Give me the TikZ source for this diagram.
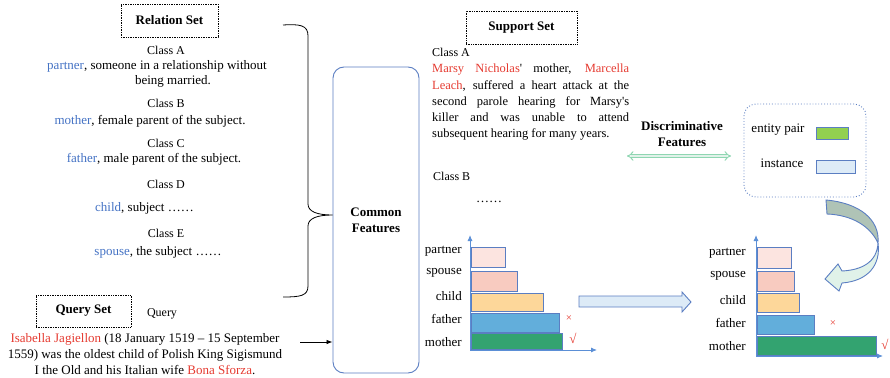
\documentclass[tikz,border=0pt]{standalone}
\usepackage{fontspec}
\setmainfont{Liberation Serif}
\usepackage{xcolor}
\usetikzlibrary{arrows.meta}
\usetikzlibrary{math}

\definecolor{relblue}{HTML}{4472C4}
\definecolor{entred}{HTML}{E53A30}
\definecolor{edgeblue}{HTML}{5B7EC2}
\definecolor{axisblue}{HTML}{5B8FD6}
\definecolor{cpartner}{HTML}{FCE4E0}
\definecolor{cspouse}{HTML}{F8CBC0}
\definecolor{cchild}{HTML}{FDD79A}
\definecolor{cfather}{HTML}{62AEDB}
\definecolor{cmother}{HTML}{33A370}
\definecolor{cpair}{HTML}{92D050}
\definecolor{cinst}{HTML}{DDEBF7}
\definecolor{mint}{HTML}{8FD6B2}
\definecolor{turnback}{HTML}{AFC3B6}
\definecolor{turnfront}{HTML}{E0F2E9}

\newcommand{\rel}[1]{\textcolor{relblue}{#1}}
\newcommand{\ent}[1]{\textcolor{entred}{#1}}

\tikzset{
  txt/.style={font=\fontsize{13}{15.5}\selectfont, inner sep=0pt},
  cls/.style={font=\fontsize{12}{14}\selectfont, inner sep=0pt},
  setbox/.style={draw, densely dotted, line width=0.7pt, font=\fontsize{13}{15}\selectfont\bfseries},
  bar/.style={draw=edgeblue, line width=1pt},
  axis/.style={draw=axisblue, line width=0.9pt, -{Latex[length=6pt,width=5pt]}},
  verdict/.style={text=entred, inner sep=0pt},
}

\begin{document}
\begin{tikzpicture}[x=1pt, y=-1pt]
\useasboundingbox (0,0) rectangle (890,377);

% relation set
\node[setbox, minimum width=97pt, minimum height=33pt] (relset) at (169.5,20.5) {Relation Set};
\node[cls] (clsa) at (166,50) {Class A};
\node[txt] (defa) at (157,66) {\rel{partner}, someone in a relationship without};
\node[txt] (defa2) at (173,81) {being married.};
\node[cls] (clsb) at (166,103) {Class B};
\node[txt] (defb) at (150,121) {\rel{mother}, female parent of the subject.};
\node[cls] (clsc) at (166,143) {Class C};
\node[txt] (defc) at (154,159) {\rel{father}, male parent of the subject.};
\node[cls] (clsd) at (166,184) {Class D};
\node[txt] (defd) at (144.5,208) {\rel{child}, subject ……};
\node[cls] (clse) at (166,233) {Class E};
\node[txt] (defe) at (158,252) {\rel{spouse}, the subject ……};

% common features
\node[draw=edgeblue, line width=0.9pt, rounded corners=11pt, minimum width=86pt, minimum height=306pt,
  align=center, font=\fontsize{13}{16}\selectfont\bfseries] (common) at (376,220) {Common\\Features};

% brace
\draw[line width=0.8pt] (283,25) .. controls (300,24) and (308,25) .. (308,36) -- (308,204)
  .. controls (308,212) and (318,215) .. (common.west |- 0,215)
  .. controls (318,215) and (308,218) .. (308,226) -- (308,286)
  .. controls (308,296) and (300,297) .. (283,297);

% query set
\node[setbox, minimum width=95pt, minimum height=32pt] (qryset) at (83.5,311) {Query Set};
\node[cls] (qry) at (162,314) {Query};
\node[txt, align=center, font=\fontsize{13}{16}\selectfont] (qrytxt) at (145,354)
  {\ent{Isabella Jagiellon} (18 January 1519 -- 15 September\\
   1559) was the oldest child of Polish King Sigismund\\
   I the Old and his Italian wife \ent{Bona Sforza}.};
\coordinate (qout) at (300,342);
\draw[line width=0.8pt, -{Latex[length=6pt,width=4.5pt]}] (qout) -- (qout -| common.west);

% support set
\node[setbox, minimum width=111pt, minimum height=33pt] (supset) at (521.5,27.5) {Support Set};
\node[cls, anchor=west] (supa) at (432,52) {Class A};
\node[txt, anchor=north west, text width=197pt, align=justify, font=\fontsize{12.5}{16.2}\selectfont] (suptxt) at (432,64)
  {\ent{Marsy Nicholas}\textquotesingle{} mother, \ent{Marcella}\linebreak
   \ent{Leach}, suffered a heart attack at the\linebreak
   second parole hearing for Marsy\textquotesingle s\linebreak
   killer and was unable to attend\linebreak
   subsequent hearing for many years.};
\node[cls, anchor=west] (supb) at (433,176) {Class B};
\node[txt] (supdots) at (489,202) {……};

% discriminative features
\node[txt, align=center, font=\fontsize{13}{16.5}\selectfont\bfseries] (disc) at (682,134) {Discriminative\\Features};
\coordinate (dl) at (627,156);
\coordinate (dr) at (731,156);
\draw[draw=mint, double=turnfront, double distance=2.2pt, line width=1pt, {Implies}-{Implies}] (dl) -- (dr);

% legend
\node[draw=edgeblue, dotted, line width=0.9pt, rounded corners=12pt, minimum width=122pt, minimum height=93pt] (legend) at (805,150.5) {};
\node[txt] (lpair) at (778,130) {entity pair};
\node[txt] (linst) at (782,163) {instance};
\draw[bar, fill=cpair] (816,127) rectangle (848,139);
\draw[bar, fill=cinst] (816,160) rectangle (855,173);

% turning arrow
\draw[edgeblue, line width=0.9pt, fill=turnback] (826,200) .. controls (860,203) and (880,220) .. (878,243)
  .. controls (870,226) and (852,215) .. (827,214) -- cycle;
\draw[edgeblue, line width=0.9pt, fill=turnfront] (878,243) .. controls (877,262) and (862,270) .. (842,271)
  -- (838,264) -- (825,279) -- (839,291) -- (842,283)
  .. controls (868,281) and (881,265) .. (878,243) -- cycle;

% scores before
\draw[axis] (470,350) -- (470,235);
\draw[axis] (470,350) -- (597,350);
\foreach \lab/\ly/\yt/\yb/\xr/\col in {partner/251/247/267/505/cpartner, spouse/273/271/291/517/cspouse,
  child/296/293/311/543/cchild, father/319/313/332/559/cfather, mother/342/333/349/562/cmother}{
  \draw[bar, fill=\col] (471,\yt) rectangle (\xr,\yb);
  \node[txt, anchor=east] (l-\lab) at (462,\ly) {\lab};
}
\node[verdict, font=\fontsize{11}{11}\selectfont] (wrong1) at (569,319) {×};
\node[verdict, font=\fontsize{13}{13}\selectfont] (right1) at (573,338) {√};

% block arrow
\draw[edgeblue, line width=0.9pt, fill=cinst] (579,296) -- (682,296) -- (682,292) -- (691,302)
  -- (682,312) -- (682,307) -- (579,307) -- cycle;

% scores after
\draw[axis] (756,356) -- (756,235);
\draw[axis] (756,356) -- (883,356);
\foreach \lab/\ly/\yt/\yb/\xr/\col in {partner/253/247/268/791/cpartner, spouse/276/271/291/794/cspouse,
  child/300/293/312/799/cchild, father/323/315/334/814/cfather, mother/346/336/355/876/cmother}{
  \draw[bar, fill=\col] (757,\yt) rectangle (\xr,\yb);
  \node[txt, anchor=east] (r-\lab) at (746,\ly) {\lab};
}
\node[verdict, font=\fontsize{11}{11}\selectfont] (wrong2) at (833,324) {×};
\node[verdict, font=\fontsize{13}{13}\selectfont] (right2) at (885,344) {√};
\end{tikzpicture}
\end{document}
